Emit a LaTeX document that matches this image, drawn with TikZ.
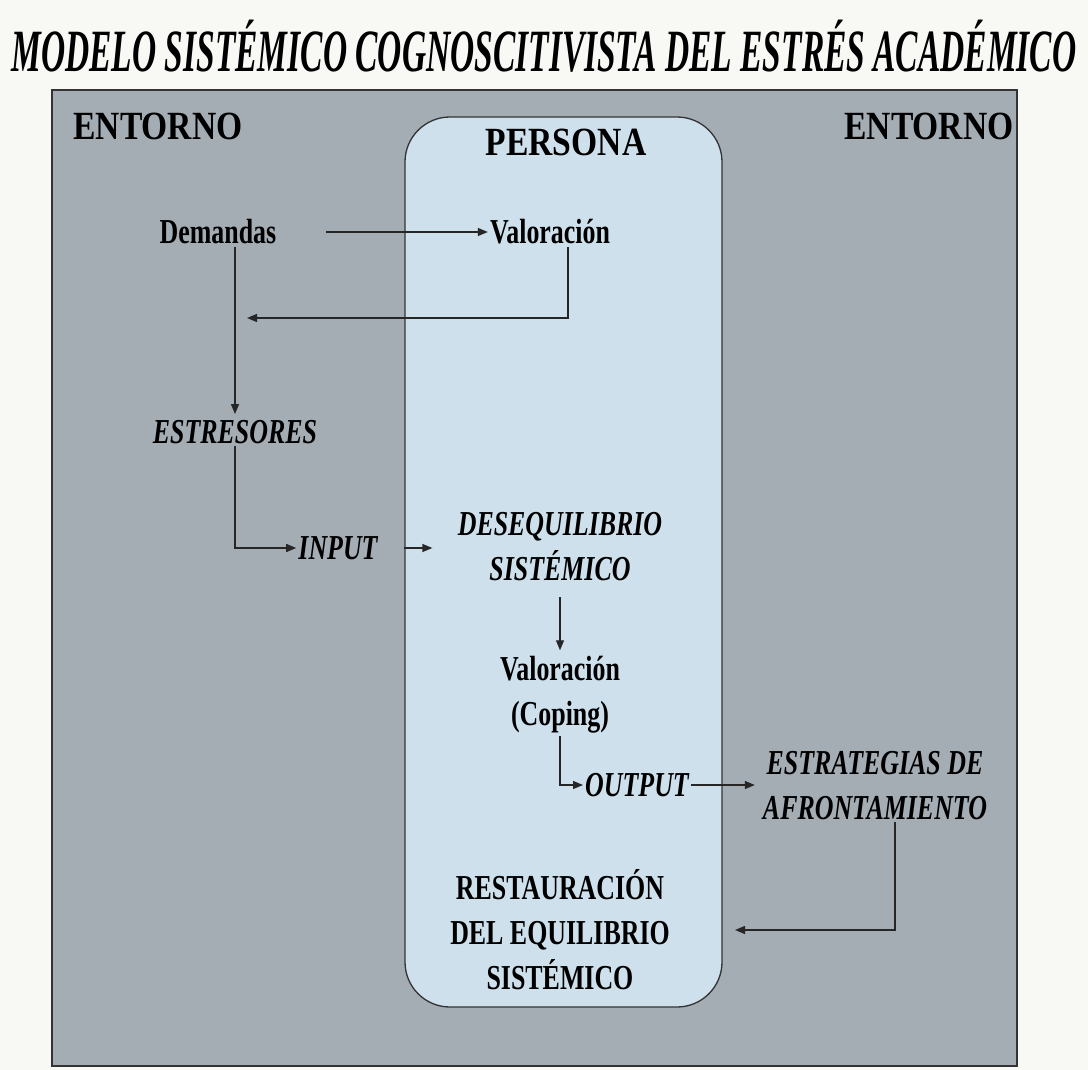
\documentclass[tikz,border=0pt]{standalone}
\usepackage{fontspec}
\setmainfont{Liberation Serif}[FakeStretch=0.74]
\newfontfamily\rotulofont{Liberation Serif}[FakeStretch=0.84]
\newfontfamily\titulofont{Liberation Serif}[FakeStretch=0.558]
\usepackage{xcolor}
\usepackage{tikz}
\usetikzlibrary{arrows.meta,positioning}
\definecolor{papel}{RGB}{248,248,245}
\definecolor{entorno}{RGB}{164,172,180}
\definecolor{persona}{RGB}{206,224,235}
\begin{document}
\begin{tikzpicture}[x=1pt, y=-1pt,
  txt/.style={font=\fontsize{35}{45}\selectfont\bfseries, align=center, inner sep=2pt},
  txtit/.style={txt, font=\fontsize{35}{45}\selectfont\bfseries\itshape},
  rotulo/.style={font=\rotulofont\fontsize{40}{48}\selectfont\bfseries, inner sep=0pt},
  flecha/.style={-{Triangle[length=10pt,width=8pt]}, line width=1.3pt, draw=black!85}]
\fill[papel] (0,0) rectangle (1088,1070);
\useasboundingbox (0,0) rectangle (1088,1070);
\node[font=\titulofont\fontsize{60}{62}\selectfont\bfseries\itshape, inner sep=0pt] (titulo) at (544,46) {MODELO SISTÉMICO COGNOSCITIVISTA DEL ESTRÉS ACADÉMICO};
\draw[fill=entorno, line width=1.5pt, draw=black!80] (52,90) rectangle (1017,1066);
\node[draw=black!80, line width=1.3pt, fill=persona, rounded corners=45pt, minimum width=317pt, minimum height=890pt, inner sep=0pt] (persona) at (563.5,562) {};
% rotulos
\node[rotulo] (entizq) at (158,126) {ENTORNO};
\node[rotulo] (entder) at (929,126) {ENTORNO};
\node[rotulo] (pers) at (566,142) {PERSONA};
% elementos
\node[txt] (dem) at (218,232) {Demandas};
\node[txt] (val) at (550,232) {Valoración};
\node[txtit] (estr) at (235,432) {ESTRESORES};
\node[txtit] (inp) at (338,548) {INPUT};
\node[txtit] (deseq) at (560,547) {DESEQUILIBRIO\\SISTÉMICO};
\node[txt] (valcop) at (560,695) {Valoración\\(Coping)};
\node[txtit] (outp) at (637,785) {OUTPUT};
\node[txtit] (estrat) at (875,786) {ESTRATEGIAS DE\\AFRONTAMIENTO};
\node[txt] (rest) at (560,930) {RESTAURACIÓN\\DEL EQUILIBRIO\\SISTÉMICO};
\coordinate (retro) at (247,318);
\coordinate (vuelta) at (735,930);
% conectores
\draw[flecha] ([xshift=48pt]dem.east) -- (val.west);
\draw[flecha] ([xshift=18pt]val.south) |- (retro);
\draw[flecha] (dem.south -| estr.north) -- ([yshift=4pt]estr.north);
\draw[flecha] (estr.south) |- (inp.west);
\draw[flecha] (inp.east -| persona.west) -- ++(28,0);
\draw[flecha, shorten <=14pt, shorten >=4pt] (deseq.south) -- (valcop.north);
\draw[flecha] (valcop.south) |- (outp.west);
\draw[flecha] (outp.east) -- ([xshift=-6pt]estrat.west |- outp.east);
\draw[flecha] ([xshift=20pt]estrat.south) |- (vuelta);
\end{tikzpicture}
\end{document}
